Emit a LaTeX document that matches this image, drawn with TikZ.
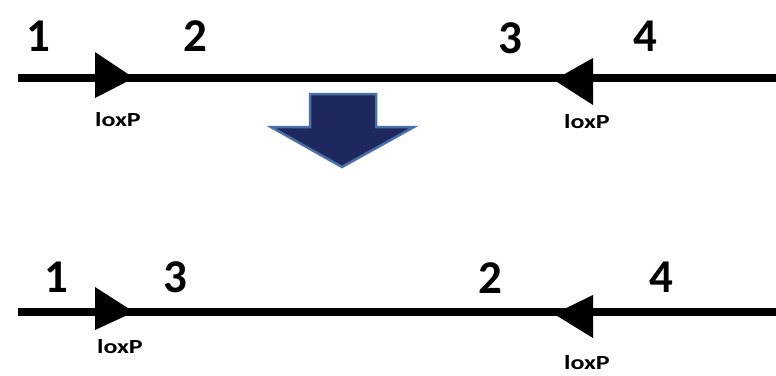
\documentclass[tikz,border=0pt]{standalone}
\usepackage{fontspec}
\setmainfont{Carlito}
\tikzset{
  num/.style={font=\bfseries\fontsize{47}{47}\selectfont, inner sep=0pt, anchor=center},
  lox/.style={font=\bfseries\fontsize{20}{20}\selectfont, inner sep=0pt, anchor=center, xscale=1.3},
  dnaline/.style={line width=8pt},
  tri/.style={fill=black}
}
\begin{document}
\begin{tikzpicture}[x=1pt,y=-1pt]
\useasboundingbox (0,0) rectangle (776,375);
% top line
\coordinate (tl) at (18,78);
\coordinate (tr) at (776,78);
\draw[dnaline] (tl) -- (tr);
\fill[tri] (95,52) -- (134,78) -- (95,98) -- cycle;
\fill[tri] (593,58) -- (554,80) -- (593,105) -- cycle;
\node[num] (t1) at (38,36) {1};
\node[num] (t2) at (195,36) {2};
\node[num] (t3) at (510,38) {3};
\node[num] (t4) at (645,36) {4};
\node[lox] (tlx1) at (118,120) {loxP};
\node[lox] (tlx2) at (587,122) {loxP};
% down arrow
\filldraw[fill={rgb,255:red,31;green,40;blue,92}, draw={rgb,255:red,74;green,112;blue,168}, line width=2.5pt, line join=miter]
  (310,94) -- (376,94) -- (376,127) -- (414,127) -- (342,167) -- (271,127) -- (310,127) -- cycle;
% bottom line
\coordinate (bl) at (18,312);
\coordinate (br) at (776,312);
\draw[dnaline] (bl) -- (br);
\fill[tri] (95,287) -- (134,312) -- (95,330) -- cycle;
\fill[tri] (593,295) -- (554,314) -- (593,338) -- cycle;
\node[num] (b1) at (56,277) {1};
\node[num] (b3) at (175,277) {3};
\node[num] (b2) at (490,278) {2};
\node[num] (b4) at (661,277) {4};
\node[lox] (blx1) at (120,347) {loxP};
\node[lox] (blx2) at (587,363) {loxP};
\end{tikzpicture}
\end{document}
